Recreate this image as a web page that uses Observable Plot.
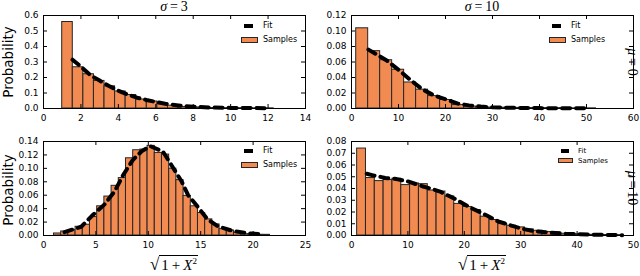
<!DOCTYPE html>
<html><head><meta charset="utf-8">
<script src="https://cdn.jsdelivr.net/npm/d3@7"></script>
<script src="https://cdn.jsdelivr.net/npm/@observablehq/plot@0.6"></script>
<style>
body{margin:0;background:#fff;}
#c{position:relative;width:640px;height:276px;overflow:hidden;font-family:"DejaVu Sans",sans-serif;color:#000;}
.abs{position:absolute;white-space:nowrap;}
.math{font-family:"Liberation Serif","DejaVu Serif",serif;font-size:14px;line-height:14px;}
.ylab{font-size:13.5px;line-height:14px;transform:translate(-50%,-50%) rotate(-90deg);}
.rlab{transform:translate(-50%,-50%) rotate(90deg);}
.leg{line-height:10px;}
svg{overflow:visible;}
</style></head>
<body><div id="c"></div>
<script>
// ---- data ----
const titles = ["σ", "σ"];
const sigmaVals = ["3", "10"];
const muVals = ["0", "10"];
const legendLabels = ["Fit", "Samples"];
const yLabel = "Probability";

// panel 1: sigma=3, mu=0
const binStart1 = 1, binWidth1 = 0.565;
const samples1 = [0.558, 0.266, 0.221, 0.178, 0.143, 0.110, 0.087, 0.058, 0.045, 0.028, 0.018, 0.010, 0.007, 0.005, 0.003, 0.002, 0.002, 0.001, 0.001, 0.001];
const fitX1 = [1.55, 2.0, 2.5, 3.0, 3.5, 4.0, 4.5, 5.0, 5.5, 6.0, 6.5, 7.0, 7.5, 8.0, 9.0, 10.0, 11.0, 12.0];
const fitY1 = [0.315, 0.27, 0.215, 0.18, 0.145, 0.115, 0.09, 0.07, 0.055, 0.042, 0.031, 0.023, 0.016, 0.011, 0.006, 0.004, 0.003, 0.002];
const xTicks1 = [0, 2, 4, 6, 8, 10, 12, 14];
const yTicks1 = [0, 0.1, 0.2, 0.3, 0.4, 0.5, 0.6];
const yTickLabels1 = ["0.0", "0.1", "0.2", "0.3", "0.4", "0.5", "0.6"];

// panel 2: sigma=10, mu=0
const binStart2 = 1, binWidth2 = 2.55;
const samples2 = [0.1035, 0.074, 0.0623, 0.050, 0.0336, 0.0243, 0.016, 0.011, 0.0044, 0.0025, 0.0018, 0.0013, 0.001, 0.0008, 0.0006, 0.0005, 0.0004, 0.0003, 0.0002, 0.0002];
const fitX2 = [3.6, 5, 7.5, 10, 12.5, 15, 17.5, 20, 22.5, 25, 27.5, 30, 35, 40, 45, 50];
const fitY2 = [0.076, 0.071, 0.062, 0.050, 0.037, 0.025, 0.017, 0.012, 0.0065, 0.004, 0.0025, 0.0015, 0.0008, 0.0005, 0.0003, 0.0002];
const xTicks2 = [0, 10, 20, 30, 40, 50, 60];
const yTicks2 = [0, 0.02, 0.04, 0.06, 0.08, 0.10, 0.12];
const yTickLabels2 = ["0.00", "0.02", "0.04", "0.06", "0.08", "0.10", "0.12"];

// panel 3: sigma=3, mu=10
const binStart3 = 1, binWidth3 = 0.687;
const samples3 = [0.003, 0.006, 0.008, 0.013, 0.016, 0.0275, 0.0435, 0.058, 0.074, 0.0855, 0.115, 0.127, 0.128, 0.1335, 0.123, 0.1205, 0.0995, 0.0825, 0.059, 0.0435, 0.0335, 0.024, 0.0165, 0.0095, 0.0075, 0.004, 0.002, 0.002, 0.001, 0.001];
const fitX3 = [2, 3.6, 4.6, 5.8, 6.8, 7.6, 8.5, 9.4, 10.2, 11.4, 12.2, 13.2, 13.8, 14.6, 15.6, 16.6, 18, 19.7, 21];
const fitY3 = [0.005, 0.013, 0.029, 0.046, 0.066, 0.09, 0.112, 0.126, 0.133, 0.125, 0.105, 0.08, 0.06, 0.045, 0.025, 0.014, 0.007, 0.003, 0.002];
const xTicks3 = [0, 5, 10, 15, 20, 25];
const yTicks3 = [0, 0.02, 0.04, 0.06, 0.08, 0.10, 0.12, 0.14];
const yTickLabels3 = ["0.00", "0.02", "0.04", "0.06", "0.08", "0.10", "0.12", "0.14"];

// panel 4: sigma=10, mu=10
const binStart4 = 1, binWidth4 = 1.565;
const samples4 = [0.074, 0.0489, 0.0463, 0.0472, 0.0483, 0.0429, 0.0443, 0.0437, 0.0383, 0.0374, 0.0332, 0.0269, 0.0243, 0.0217, 0.016, 0.0132, 0.0097, 0.0083, 0.0069, 0.0052, 0.004, 0.003, 0.0025, 0.0015, 0.001, 0.0008, 0.0006, 0.0005, 0.0004, 0.0003];
const fitX4 = [2.7, 4, 6, 8, 10, 12.7, 14, 15.7, 18, 21, 24, 26, 28, 30, 32, 35, 38, 42, 46, 48];
const fitY4 = [0.0525, 0.051, 0.049, 0.048, 0.046, 0.0417, 0.040, 0.0374, 0.032, 0.024, 0.017, 0.012, 0.009, 0.006, 0.004, 0.0025, 0.0015, 0.0008, 0.0004, 0.0003];
const xTicks4 = [0, 10, 20, 30, 40, 50];
const yTicks4 = [0, 0.01, 0.02, 0.03, 0.04, 0.05, 0.06, 0.07, 0.08];
const yTickLabels4 = ["0.00", "0.01", "0.02", "0.03", "0.04", "0.05", "0.06", "0.07", "0.08"];

// ---- layout ----
const BAR_FILL = "#f28b52", BAR_STROKE = "#262626";
const panels = [
  {left:0, top:0, w:320, h:136, ml:43, mr:15, mt:15, mb:28, start:binStart1, bw:binWidth1, samples:samples1, fitX:fitX1, fitY:fitY1, xTicks:xTicks1, yTicks:yTicks1, yLabels:yTickLabels1,
   leg:{dash:[244,24,9,4], rect:[241,37,17,6], tx:263, ty1:21, ty2:35, fs:8}},
  {left:320, top:0, w:320, h:136, ml:31, mr:7, mt:15, mb:28, start:binStart2, bw:binWidth2, samples:samples2, fitX:fitX2, fitY:fitY2, xTicks:xTicks2, yTicks:yTicks2, yLabels:yTickLabels2,
   leg:{dash:[552,24,9,4], rect:[549,37,17,6], tx:571, ty1:21, ty2:35, fs:8}},
  {left:0, top:136, w:320, h:140, ml:43, mr:15, mt:5, mb:41, start:binStart3, bw:binWidth3, samples:samples3, fitX:fitX3, fitY:fitY3, xTicks:xTicks3, yTicks:yTicks3, yLabels:yTickLabels3,
   leg:{dash:[244,149,9,4], rect:[241,162,17,6], tx:263, ty1:146, ty2:160, fs:8}},
  {left:320, top:136, w:320, h:140, ml:31, mr:7, mt:5, mb:41, start:binStart4, bw:binWidth4, samples:samples4, fitX:fitX4, fitY:fitY4, xTicks:xTicks4, yTicks:yTicks4, yLabels:yTickLabels4,
   leg:{dash:[561,149,8,4], rect:[558,158,15,5], tx:578, ty1:146, ty2:156, fs:7}}
];

const c = document.getElementById("c");
function addDiv(html, cls, style){
  const d = document.createElement("div");
  d.className = "abs " + (cls||"");
  d.innerHTML = html;
  Object.assign(d.style, style);
  c.appendChild(d);
  return d;
}

panels.forEach((p) => {
  const bars = p.samples.map((v, i) => ({x1: p.start + i * p.bw, x2: p.start + (i + 1) * p.bw, y: v}));
  const fit = p.fitX.map((x, i) => ({x, y: p.fitY[i]}));
  const ph = p.h - p.mt - p.mb, pw = p.w - p.ml - p.mr, T = 4;
  const xDomain = [p.xTicks[0], p.xTicks[p.xTicks.length - 1]];
  const yDomain = [p.yTicks[0], p.yTicks[p.yTicks.length - 1]];
  const chart = Plot.plot({
    width: p.w, height: p.h,
    marginLeft: p.ml, marginRight: p.mr, marginTop: p.mt, marginBottom: p.mb,
    x: {domain: xDomain}, y: {domain: yDomain},
    style: {fontFamily: "DejaVu Sans, sans-serif", fontSize: "9px", color: "black", background: "transparent", overflow: "visible"},
    marks: [
      Plot.rectY(bars, {x1: "x1", x2: "x2", y: "y", fill: BAR_FILL, stroke: BAR_STROKE, strokeWidth: 1}),
      Plot.line(fit, {x: "x", y: "y", stroke: "black", strokeWidth: 4, strokeDasharray: "8,6"}),
      Plot.tickX(p.xTicks, {x: d => d, insetTop: ph - T, stroke: "black"}),
      Plot.tickX(p.xTicks, {x: d => d, insetBottom: ph - T, stroke: "black"}),
      Plot.tickY(p.yTicks, {y: d => d, insetRight: pw - T, stroke: "black"}),
      Plot.tickY(p.yTicks, {y: d => d, insetLeft: pw - T, stroke: "black"}),
      Plot.axisX(p.xTicks, {tickSize: 0, tickPadding: 6, tickFormat: d => String(d), label: null}),
      Plot.axisY(p.yTicks, {tickSize: 0, tickPadding: 5, tickFormat: d => p.yLabels[p.yTicks.indexOf(d)], label: null}),
      Plot.frame({stroke: "black", strokeWidth: 1})
    ]
  });
  chart.style.position = "absolute";
  chart.style.left = p.left + "px";
  chart.style.top = p.top + "px";
  c.appendChild(chart);

  // legend
  const L = p.leg;
  addDiv("", "", {left: L.dash[0] + "px", top: L.dash[1] + "px", width: L.dash[2] + "px", height: L.dash[3] + "px", background: "black"});
  addDiv("", "", {left: L.rect[0] + "px", top: L.rect[1] + "px", width: L.rect[2] + "px", height: L.rect[3] + "px", background: BAR_FILL, border: "1px solid " + BAR_STROKE, boxSizing: "border-box"});
  addDiv(legendLabels[0], "leg", {left: L.tx + "px", top: L.ty1 + "px", fontSize: L.fs + "px"});
  addDiv(legendLabels[1], "leg", {left: L.tx + "px", top: L.ty2 + "px", fontSize: L.fs + "px"});
});

// titles
addDiv(`<i>${titles[0]}</i>&#8201;=&#8201;${sigmaVals[0]}`, "math", {left: "174px", top: "0px", transform: "translateX(-50%)"});
addDiv(`<i>${titles[1]}</i>&#8201;=&#8201;${sigmaVals[1]}`, "math", {left: "482px", top: "0px", transform: "translateX(-50%)"});
// right labels
addDiv(`<i>μ</i>&#8201;=&#8201;${muVals[0]}`, "math rlab", {left: "632px", top: "62px"});
addDiv(`<i>μ</i>&#8201;=&#8201;${muVals[1]}`, "math rlab", {left: "632px", top: "188px"});
// y labels
addDiv(yLabel, "ylab", {left: "8px", top: "62px"});
addDiv(yLabel, "ylab", {left: "8px", top: "190px"});
// x labels
const xlab = `<span style="font-size:17px">&#8730;</span><span style="border-top:1px solid #000;padding:1px 1px 0 2px">1&#8201;+&#8201;<i>X</i><sup style="font-size:9px;line-height:0">2</sup></span>`;
addDiv(xlab, "math", {left: "174px", top: "256px", transform: "translateX(-50%)", fontSize: "15px", lineHeight: "18px"});
addDiv(xlab, "math", {left: "482px", top: "256px", transform: "translateX(-50%)", fontSize: "15px", lineHeight: "18px"});
</script>
</body></html>
